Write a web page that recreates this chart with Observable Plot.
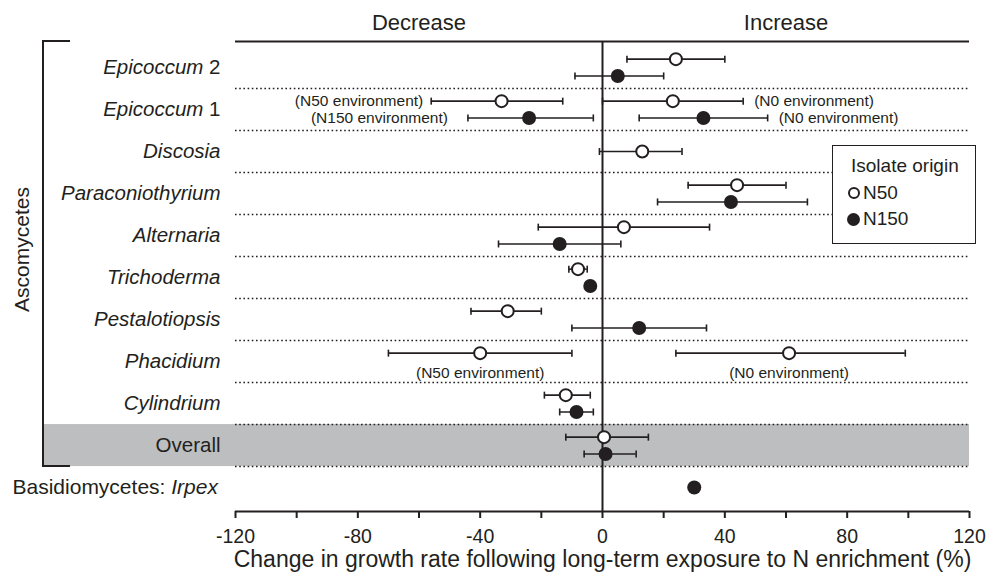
<!DOCTYPE html>
<html>
<head>
<meta charset="utf-8">
<script src="https://cdn.jsdelivr.net/npm/d3@7"></script>
<script src="https://cdn.jsdelivr.net/npm/@observablehq/plot@0.6"></script>
<style>
  body { margin: 0; background: white; }
  #wrap { position: relative; width: 987px; height: 575px; font-family: "Liberation Sans", Arial, sans-serif; color: #231f20; }
  #legend { position: absolute; left: 832px; top: 145px; width: 142px; height: 97px; border: 1.5px solid #231f20; background: white; font-size: 19px; }
  #legend .row { position: absolute; left: 18px; white-space: nowrap; display: flex; align-items: center; }
  #legend svg { margin-right: 2px; }
</style>
</head>
<body>
<div id="wrap">
  <div id="chart"></div>
  <div id="legend">
    <div class="row" style="top:9px">Isolate origin</div>
    <div class="row" style="top:36px;left:14px"><svg width="14" height="14"><circle cx="7" cy="7" r="5" fill="white" stroke="#231f20" stroke-width="2"/></svg>N50</div>
    <div class="row" style="top:62px;left:13px"><svg width="15" height="15"><circle cx="7.5" cy="7.5" r="6.5" fill="#231f20"/></svg>N150</div>
  </div>
</div>
<script>
// Row categories (top to bottom)
const rows = ["Epicoccum 2", "Epicoccum 1", "Discosia", "Paraconiothyrium", "Alternaria",
  "Trichoderma", "Pestalotiopsis", "Phacidium", "Cylindrium", "Overall", "Irpex"];

// Estimates
const genus = ["Epicoccum 2", "Epicoccum 2", "Epicoccum 1", "Epicoccum 1", "Epicoccum 1", "Epicoccum 1",
  "Discosia", "Paraconiothyrium", "Paraconiothyrium", "Alternaria", "Alternaria",
  "Trichoderma", "Trichoderma", "Pestalotiopsis", "Pestalotiopsis", "Phacidium", "Phacidium",
  "Cylindrium", "Cylindrium", "Overall", "Overall", "Irpex"];
const origin = ["N50", "N150", "N50", "N150", "N50", "N150",
  "N50", "N50", "N150", "N50", "N150",
  "N50", "N150", "N50", "N150", "N50", "N50",
  "N50", "N150", "N50", "N150", "N150"];
const mean = [24, 5, -33, -24, 23, 33,
  13, 44, 42, 7, -14,
  -8, -4, -31, 12, -40, 61,
  -12, -8.5, 0.5, 1, 30];
const lower = [8, -9, -56, -44, 0, 12,
  -1, 28, 18, -21, -34,
  -11, null, -43, -10, -70, 24,
  -19, -14, -12, -6, null];
const upper = [40, 20, -13, -3, 46, 54,
  26, 60, 67, 35, 6,
  -5, null, -20, 34, -10, 99,
  -4, -3, 15, 11, null];
const environment = [null, null, "N50", "N150", "N0", "N0",
  null, null, null, null, null,
  null, null, null, null, "N50", "N0",
  null, null, null, null, null];

// Axis ticks
const xTicks = [-120, -100, -80, -60, -40, -20, 0, 20, 40, 60, 80, 100, 120];
const xTickLabels = [-120, -80, -40, 0, 40, 80, 120];
const directions = ["Decrease", "Increase"];
const axisTitle = "Change in growth rate following long-term exposure to N enrichment (%)";
const groupTitle = "Ascomycetes";

const ink = "#231f20";
const yDomain = [-0.62, 10.57];
const xDomain = [-120, 120];

const data = genus.map((g, i) => ({genus: g, origin: origin[i], mean: mean[i], lo: lower[i], hi: upper[i], env: environment[i]}));
data.forEach(d => {
  const n = data.filter(e => e.genus === d.genus).length;
  d.y = rows.indexOf(d.genus) + (n === 1 ? 0 : d.origin === "N50" ? -0.2 : 0.2);
});
const bars = data.filter(d => d.lo != null);
const envs = data.filter(d => d.env);
envs.forEach(d => {
  d.label = `(${d.env} environment)`;
  d.place = d.genus === "Phacidium" ? "below" : d.mean < 0 ? "left" : "right";
  d.ly = d.place === "below" ? rows.indexOf(d.genus) + 0.28 : d.y;
});

const capSymbol = {draw(ctx) { ctx.moveTo(0, -3.5); ctx.lineTo(0, 3.5); }};

const bracketX = 43;
function decor(index, scales, values, dims) {
  const y = scales.y;
  const g = d3.create("svg:g");
  const iOverall = rows.indexOf("Overall");
  g.append("rect")
    .attr("x", bracketX).attr("y", y(iOverall - 0.5))
    .attr("width", dims.width - dims.marginRight - bracketX)
    .attr("height", y(iOverall + 0.5) - y(iOverall - 0.5))
    .attr("fill", "#bcbec0");
  return g.node();
}
function bracket(index, scales, values, dims) {
  const y = scales.y;
  const g = d3.create("svg:g");
  const top = y(yDomain[0]), bot = y(rows.indexOf("Overall") + 0.5);
  g.append("path")
    .attr("d", `M${bracketX + 27},${top}H${bracketX}V${bot}H${bracketX + 27}`)
    .attr("fill", "none").attr("stroke", ink).attr("stroke-width", 2);
  g.append("text")
    .attr("transform", `translate(22,${(top + bot) / 2 - 4}) rotate(-90)`)
    .attr("text-anchor", "middle").attr("dy", "0.35em")
    .attr("font-size", 21).attr("fill", ink)
    .text(groupTitle);
  return g.node();
}

const chart = Plot.plot({
  width: 987,
  height: 575,
  marginLeft: 235,
  marginRight: 18,
  marginTop: 41,
  marginBottom: 64,
  x: {domain: xDomain},
  y: {domain: yDomain, reverse: true, axis: null},
  style: {fontFamily: "'Liberation Sans', Arial, sans-serif", fontSize: "19px", color: ink, background: "white", overflow: "visible"},
  marks: [
    decor,
    Plot.ruleY(d3.range(0.5, rows.length - 1, 1), {stroke: ink, strokeWidth: 1.6, strokeDasharray: "1.6,2.6"}),
    Plot.ruleY([yDomain[0]], {stroke: ink, strokeWidth: 2}),
    Plot.ruleY([yDomain[1]], {stroke: ink, strokeWidth: 2}),
    Plot.ruleX([0], {stroke: ink, strokeWidth: 2}),
    Plot.axisX({ticks: xTicks, tickFormat: d => xTickLabels.includes(d) ? String(d) : "", tickSize: 7, tickPadding: 11, strokeWidth: 2, fontSize: 19.5, label: null, fill: ink}),
    Plot.text([axisTitle], {text: d => d, frameAnchor: "bottom", lineAnchor: "middle", dy: 48, fontSize: 23, fill: ink}),
    Plot.text(directions, {text: d => d, x: (d, i) => d3.mean(i === 0 ? [xDomain[0], 0] : [0, xDomain[1]]), frameAnchor: "top", lineAnchor: "middle", dy: -19, fontSize: 22, fill: ink}),
    bracket,
    Plot.text(rows.filter(r => r !== "Overall" && r !== "Irpex"), {text: d => d, y: d => rows.indexOf(d), frameAnchor: "left", dx: -15, textAnchor: "end", fontStyle: "italic", fontSize: 20.5, fill: ink}),
    Plot.text(["Overall"], {text: d => d, y: d => rows.indexOf(d), frameAnchor: "left", dx: -15, textAnchor: "end", fontSize: 20.5, fill: ink}),
    Plot.text(["Basidiomycetes: Irpex"], {text: d => d, y: () => rows.indexOf("Irpex"), frameAnchor: "left", dx: -223, textAnchor: "start", fontSize: 21, fill: ink}),
    Plot.ruleY(bars, {y: "y", x1: "lo", x2: "hi", stroke: ink, strokeWidth: 1.6}),
    Plot.dot(bars, {x: "lo", y: "y", symbol: capSymbol, fill: "none", stroke: ink, strokeWidth: 1.6}),
    Plot.dot(bars, {x: "hi", y: "y", symbol: capSymbol, fill: "none", stroke: ink, strokeWidth: 1.6}),
    Plot.dot(data.filter(d => d.origin === "N50"), {x: "mean", y: "y", r: 6, fill: "white", stroke: ink, strokeWidth: 2}),
    Plot.dot(data.filter(d => d.origin === "N150"), {x: "mean", y: "y", r: 7, fill: ink, stroke: "none"}),
    Plot.text(envs.filter(d => d.place === "left" && d.origin === "N50"), {x: "lo", y: "ly", text: "label", textAnchor: "end", dx: -8, fontSize: 15.5, fill: ink}),
    Plot.text(envs.filter(d => d.place === "left" && d.origin === "N150"), {x: "lo", y: "ly", text: "label", textAnchor: "end", dx: -20, fontSize: 15.5, fill: ink}),
    Plot.text(envs.filter(d => d.place === "right"), {x: "hi", y: "ly", text: "label", textAnchor: "start", dx: 11, fontSize: 15.5, fill: ink}),
    Plot.text(envs.filter(d => d.place === "below"), {x: "mean", y: "ly", text: "label", fontSize: 15.5, fill: ink})
  ]
});

// Mixed styles within labels
const NS = "http://www.w3.org/2000/svg";
chart.querySelectorAll("text").forEach(t => {
  const s = t.textContent;
  let parts = null;
  if (/^Epicoccum \d$/.test(s)) parts = [["Epicoccum", null], [" " + s.slice(-1), "normal"]];
  else if (s === "Basidiomycetes: Irpex") parts = [["Basidiomycetes: ", null], ["Irpex", "italic"]];
  if (!parts) return;
  t.textContent = "";
  t.setAttribute("xml:space", "preserve");
  for (const [txt, style] of parts) {
    const ts = document.createElementNS(NS, "tspan");
    if (style) ts.setAttribute("font-style", style);
    ts.textContent = txt;
    t.appendChild(ts);
  }
});

document.getElementById("chart").appendChild(chart);
</script>
</body>
</html>
